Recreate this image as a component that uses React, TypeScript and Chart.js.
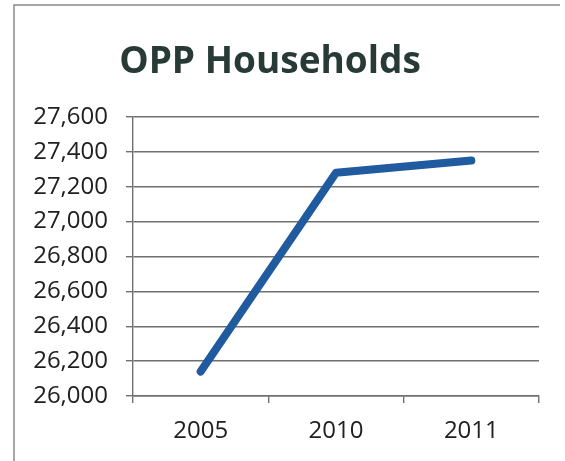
import React, { useEffect, useRef } from "react";
import { Chart, registerables } from "chart.js";

Chart.register(...registerables);

const TITLE = "OPP Households";
const YEARS = ["2005", "2010", "2011"];
const HOUSEHOLDS = [26140, 27280, 27350];
const Y_MIN = 26000;
const Y_MAX = 27600;
const Y_STEP = 200;

const W = 565;
const H = 461;

const frameAndTitle = {
  id: "frameAndTitle",
  beforeDraw(chart: Chart) {
    const ctx = chart.ctx;
    ctx.save();
    ctx.fillStyle = "#ffffff";
    ctx.fillRect(0, 0, W, H);
    // outer frame (top and left edges)
    ctx.strokeStyle = "#8a8a8a";
    ctx.lineWidth = 1.5;
    ctx.beginPath();
    ctx.moveTo(14, H);
    ctx.lineTo(14, 5);
    ctx.lineTo(560, 5);
    ctx.stroke();
    ctx.restore();
  },
  afterDraw(chart: Chart) {
    const ctx = chart.ctx;
    ctx.save();
    ctx.fillStyle = "#283a36";
    ctx.font = "bold 37px 'Open Sans'";
    ctx.textAlign = "center";
    ctx.textBaseline = "middle";
    ctx.fillText(TITLE, 270, 62);
    ctx.restore();
  },
};

export default function App() {
  const ref = useRef<HTMLCanvasElement | null>(null);

  useEffect(() => {
    if (!ref.current) return;
    const chart = new Chart(ref.current, {
      type: "line",
      data: {
        labels: YEARS,
        datasets: [
          {
            data: HOUSEHOLDS,
            borderColor: "#1f5b9e",
            borderWidth: 8,
            borderCapStyle: "round",
            borderJoinStyle: "round",
            tension: 0,
            pointRadius: 0,
            fill: false,
          },
        ],
      },
      options: {
        responsive: false,
        animation: false,
        layout: { padding: { top: 117, right: 26, bottom: 0, left: 0 } },
        plugins: {
          legend: { display: false },
          title: { display: false },
          tooltip: { enabled: false },
        },
        scales: {
          x: {
            offset: true,
            afterFit(scale: any) {
              scale.height = H - 396;
            },
            grid: {
              offset: true,
              drawOnChartArea: false,
              tickLength: 7,
              color: "#707070",
              lineWidth: 1.4,
            },
            border: { display: true, color: "#707070", width: 1.4 },
            ticks: {
              padding: 14,
              color: "#202020",
              font: { family: "'Open Sans'", size: 24 },
            },
          },
          y: {
            min: Y_MIN,
            max: Y_MAX,
            afterFit(scale: any) {
              scale.width = 133;
            },
            grid: {
              color: "#707070",
              lineWidth: 1.4,
              tickLength: 7,
            },
            border: { display: true, color: "#707070", width: 1.4 },
            ticks: {
              stepSize: Y_STEP,
              padding: 18,
              color: "#202020",
              font: { family: "'Open Sans'", size: 24 },
              callback: (v: any) => Number(v).toLocaleString("en-US"),
            },
          },
        },
      },
      plugins: [frameAndTitle],
    });
    return () => chart.destroy();
  }, []);

  return (
    <div style={{ position: "fixed", left: 0, top: 0, width: W, height: H, background: "#fff" }}>
      <canvas ref={ref} width={W} height={H} style={{ display: "block", width: W, height: H }} />
    </div>
  );
}
